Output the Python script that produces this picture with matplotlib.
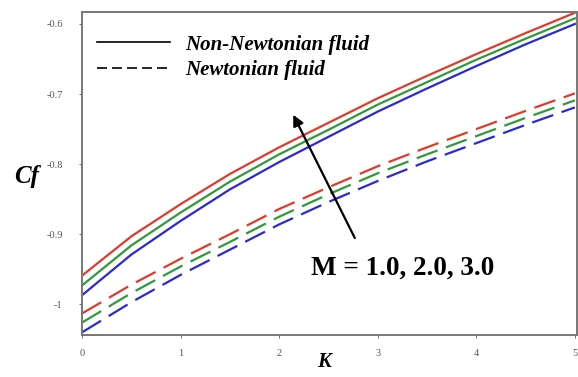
import matplotlib
matplotlib.use("Agg")
import matplotlib.pyplot as plt
from matplotlib.lines import Line2D

K = [0.0, 0.5, 1.0, 1.5, 2.0, 2.5, 3.0, 3.5, 4.0, 4.5, 5.0]
# Non-Newtonian fluid (solid), M = 1.0, 2.0, 3.0
cf_nn_m1 = [-0.959, -0.903, -0.857, -0.814, -0.776, -0.741, -0.706, -0.674, -0.643, -0.613, -0.584]
cf_nn_m2 = [-0.973, -0.916, -0.869, -0.825, -0.786, -0.751, -0.715, -0.683, -0.651, -0.621, -0.592]
cf_nn_m3 = [-0.987, -0.929, -0.881, -0.836, -0.797, -0.761, -0.725, -0.692, -0.660, -0.629, -0.600]
# Newtonian fluid (dashed)
cf_n_m1 = [-1.013, -0.972, -0.935, -0.900, -0.864, -0.833, -0.803, -0.776, -0.750, -0.724, -0.699]
cf_n_m2 = [-1.026, -0.984, -0.946, -0.911, -0.875, -0.843, -0.813, -0.786, -0.760, -0.734, -0.709]
cf_n_m3 = [-1.040, -0.997, -0.958, -0.922, -0.886, -0.854, -0.824, -0.796, -0.770, -0.744, -0.719]

xticks = [0, 1, 2, 3, 4, 5]
yticks = [-1.0, -0.9, -0.8, -0.7, -0.6]
yticklabels = ["-1", "-0.9", "-0.8", "-0.7", "-0.6"]
legend_labels = ["Non-Newtonian fluid", "Newtonian fluid"]
annotation = "M = 1.0, 2.0, 3.0"

colors = ["#e03a2a", "#2f9a3a", "#2a2ad0"]
serif = ["Liberation Serif", "DejaVu Serif"]

fig = plt.figure(figsize=(5.78, 3.77), dpi=100)
ax = fig.add_axes([0.142, 0.111, 0.856, 0.857])

for y, c in zip([cf_nn_m1, cf_nn_m2, cf_nn_m3], colors):
    ax.plot(K, y, color=c, lw=1.6)
for y, c in zip([cf_n_m1, cf_n_m2, cf_n_m3], colors):
    ax.plot(K, y, color=c, lw=1.6, dashes=(10, 4))

ax.set_xlim(0, 5.02)
ax.set_ylim(-1.044, -0.583)
ax.set_xticks(xticks)
ax.set_xticklabels([str(v) for v in xticks])
ax.set_yticks(yticks)
ax.set_yticklabels(yticklabels)
ax.tick_params(labelsize=7.5, colors="#555555", length=2, width=0.6)
ax.tick_params(axis="x", pad=8)
ax.tick_params(axis="y", pad=12)
for lab in ax.get_xticklabels() + ax.get_yticklabels():
    lab.set_family(serif)

for s in ax.spines.values():
    s.set_color("#777777")
    s.set_linewidth(1.4)

ax.set_xlabel("K", family=serif, fontsize=15, fontweight="bold", style="italic",
              va="center")
ax.xaxis.set_label_coords(0.49, -0.082)
ax.set_ylabel("Cf", family=serif, fontsize=18, fontweight="bold", style="italic",
              rotation=0, va="center", ha="center")
ax.yaxis.set_label_coords(-0.112, 0.49)

h1 = Line2D([0], [0], color="black", lw=1.2)
h2 = Line2D([0], [0], color="black", lw=1.2, dashes=(6, 3))
ax.legend([h1, h2], legend_labels,
          loc="upper left", bbox_to_anchor=(0.0, 0.975), frameon=False,
          handlelength=3.5, handletextpad=0.75, labelspacing=0.25, borderaxespad=0.3,
          prop={"family": serif, "size": 15, "weight": "bold", "style": "italic"})

ax.annotate("", xy=(2.13, -0.726), xytext=(2.78, -0.909),
            arrowprops=dict(arrowstyle="-|>", color="black", lw=1.6, mutation_scale=16))
ax.text(3.25, -0.948, annotation, family=serif, fontsize=19.5, fontweight="bold",
        ha="center", va="center")

fig.savefig("out.png", dpi=100)
